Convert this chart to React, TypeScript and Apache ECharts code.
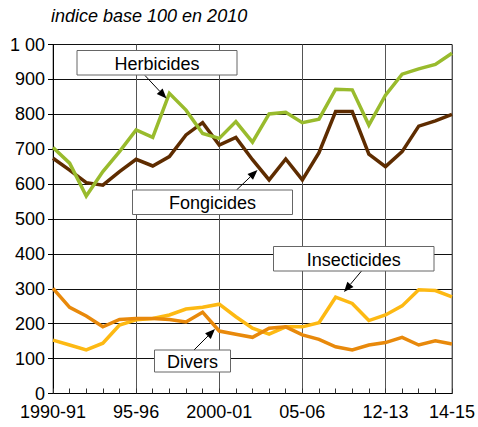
import React, { useEffect, useRef } from "react";
import * as echarts from "echarts";

const seasons = [
  "1990-91", "1991-92", "1992-93", "1993-94", "1994-95", "1995-96", "1996-97", "1997-98",
  "1998-99", "1999-00", "2000-01", "2001-02", "2002-03", "2003-04", "2004-05", "2005-06",
  "2006-07", "2007-08", "2008-09", "2009-10", "2010-11", "2011-12", "2012-13", "2013-14", "2014-15",
];
const tickLabels = [
  "1990-91", "", "", "", "", "95-96", "", "", "", "", "2000-01", "", "", "", "", "05-06",
  "", "", "", "", "12-13", "", "", "", "14-15",
];
const herbicides = [705, 660, 566, 636, 693, 755, 734, 860, 812, 745, 731, 779, 720, 801, 806, 776, 786, 872, 870, 769, 855, 915, 930, 943, 975];
const fongicides = [674, 640, 604, 597, 636, 671, 652, 679, 741, 776, 712, 734, 670, 612, 672, 612, 690, 808, 808, 686, 650, 693, 766, 781, 800];
const insecticides = [153, 139, 125, 144, 196, 211, 215, 225, 242, 247, 256, 220, 187, 170, 191, 191, 203, 276, 258, 209, 225, 251, 297, 295, 277];
const divers = [301, 247, 222, 191, 212, 215, 215, 212, 205, 233, 179, 170, 161, 187, 191, 168, 155, 134, 125, 139, 146, 161, 139, 151, 142];

const FONT = "'Liberation Sans', Arial, sans-serif";

function callout(
  label: string,
  box: [number, number, number, number],
  from: [number, number],
  to: [number, number]
) {
  const [bx, by, bw, bh] = box;
  const [x1, y1] = from;
  const [x2, y2] = to;
  const dx = x2 - x1;
  const dy = y2 - y1;
  const len = Math.sqrt(dx * dx + dy * dy);
  const ux = dx / len;
  const uy = dy / len;
  const hl = 10;
  const hw = 4;
  const bxp = x2 - ux * hl;
  const byp = y2 - uy * hl;
  return [
    {
      type: "line",
      shape: { x1, y1, x2: bxp, y2: byp },
      style: { stroke: "#000", lineWidth: 1 },
      z: 100,
    },
    {
      type: "polygon",
      shape: {
        points: [
          [x2, y2],
          [bxp - uy * hw, byp + ux * hw],
          [bxp + uy * hw, byp - ux * hw],
        ],
      },
      style: { fill: "#000" },
      z: 100,
    },
    {
      type: "rect",
      shape: { x: bx, y: by, width: bw, height: bh },
      style: { fill: "#fff", stroke: "#666", lineWidth: 1 },
      z: 100,
    },
    {
      type: "text",
      x: bx + bw / 2,
      y: by + bh / 2 + 1,
      style: {
        text: label,
        fontSize: 18,
        fontFamily: FONT,
        fill: "#000",
        align: "center",
        verticalAlign: "middle",
      },
      z: 101,
    },
  ];
}

export default function App() {
  const ref = useRef<HTMLDivElement>(null);

  useEffect(() => {
    if (!ref.current) return;
    const chart = echarts.init(ref.current, null, { renderer: "svg" });
    const lineSeries = (name: string, data: number[], color: string, z: number) => ({
      name,
      type: "line",
      data,
      symbol: "none",
      z,
      lineStyle: { color, width: 3.5, join: "miter" },
      itemStyle: { color },
    });
    chart.setOption({
      animation: false,
      backgroundColor: "#fff",
      title: {
        text: "indice base 100 en 2010",
        left: 51,
        top: 7,
        padding: 0,
        textStyle: {
          fontSize: 18,
          fontStyle: "italic",
          fontWeight: "normal",
          fontFamily: FONT,
          color: "#000",
        },
      },
      grid: {
        left: 53,
        right: 16,
        top: 44.5,
        bottom: 33.5,
        show: true,
        borderColor: "#777",
        borderWidth: 1,
        backgroundColor: "transparent",
      },
      xAxis: {
        type: "category",
        data: seasons,
        boundaryGap: false,
        axisLine: { show: true, lineStyle: { color: "#000", width: 1 } },
        axisTick: {
          show: true,
          inside: true,
          length: 5,
          interval: 0,
          lineStyle: { color: "#333" },
        },
        splitLine: {
          show: true,
          interval: (index: number) => tickLabels[index] !== "",
          lineStyle: { color: "#555", width: 1 },
        },
        axisLabel: {
          interval: (index: number) => tickLabels[index] !== "",
          formatter: (_v: string, index: number) => tickLabels[index],
          margin: 11.5,
          fontSize: 18,
          lineHeight: 14,
          fontFamily: FONT,
          color: "#000",
        },
      },
      yAxis: {
        type: "value",
        min: 0,
        max: 1000,
        interval: 100,
        axisLine: { show: true, lineStyle: { color: "#000", width: 1 } },
        axisTick: { show: true, length: 5, lineStyle: { color: "#000" } },
        splitLine: { show: true, lineStyle: { color: "#111", width: 1 } },
        axisLabel: {
          formatter: (v: number) => (v === 1000 ? "1 00" : String(v)),
          margin: 8,
          fontSize: 18,
          lineHeight: 14,
          fontFamily: FONT,
          color: "#000",
        },
      },
      series: [
        lineSeries("Insecticides", insecticides, "#fdb913", 2),
        lineSeries("Divers", divers, "#e8890b", 3),
        lineSeries("Fongicides", fongicides, "#5e2c00", 4),
        lineSeries("Herbicides", herbicides, "#99bb2d", 5),
      ],
      graphic: [
        ...callout("Herbicides", [77, 50.5, 160, 24.5], [145, 75.5], [166.5, 98.5]),
        ...callout("Fongicides", [132.5, 190, 160, 24.5], [236.5, 190], [257.5, 170]),
        ...callout("Divers", [154.5, 350, 76, 22], [194, 350], [215, 329]),
        ...callout("Insecticides", [273.5, 246.5, 160.5, 24.5], [361.5, 271], [344, 292]),
      ],
    });
    return () => chart.dispose();
  }, []);

  return (
    <div
      ref={ref}
      style={{ position: "absolute", left: 0, top: 0, width: 478, height: 427 }}
    />
  );
}
